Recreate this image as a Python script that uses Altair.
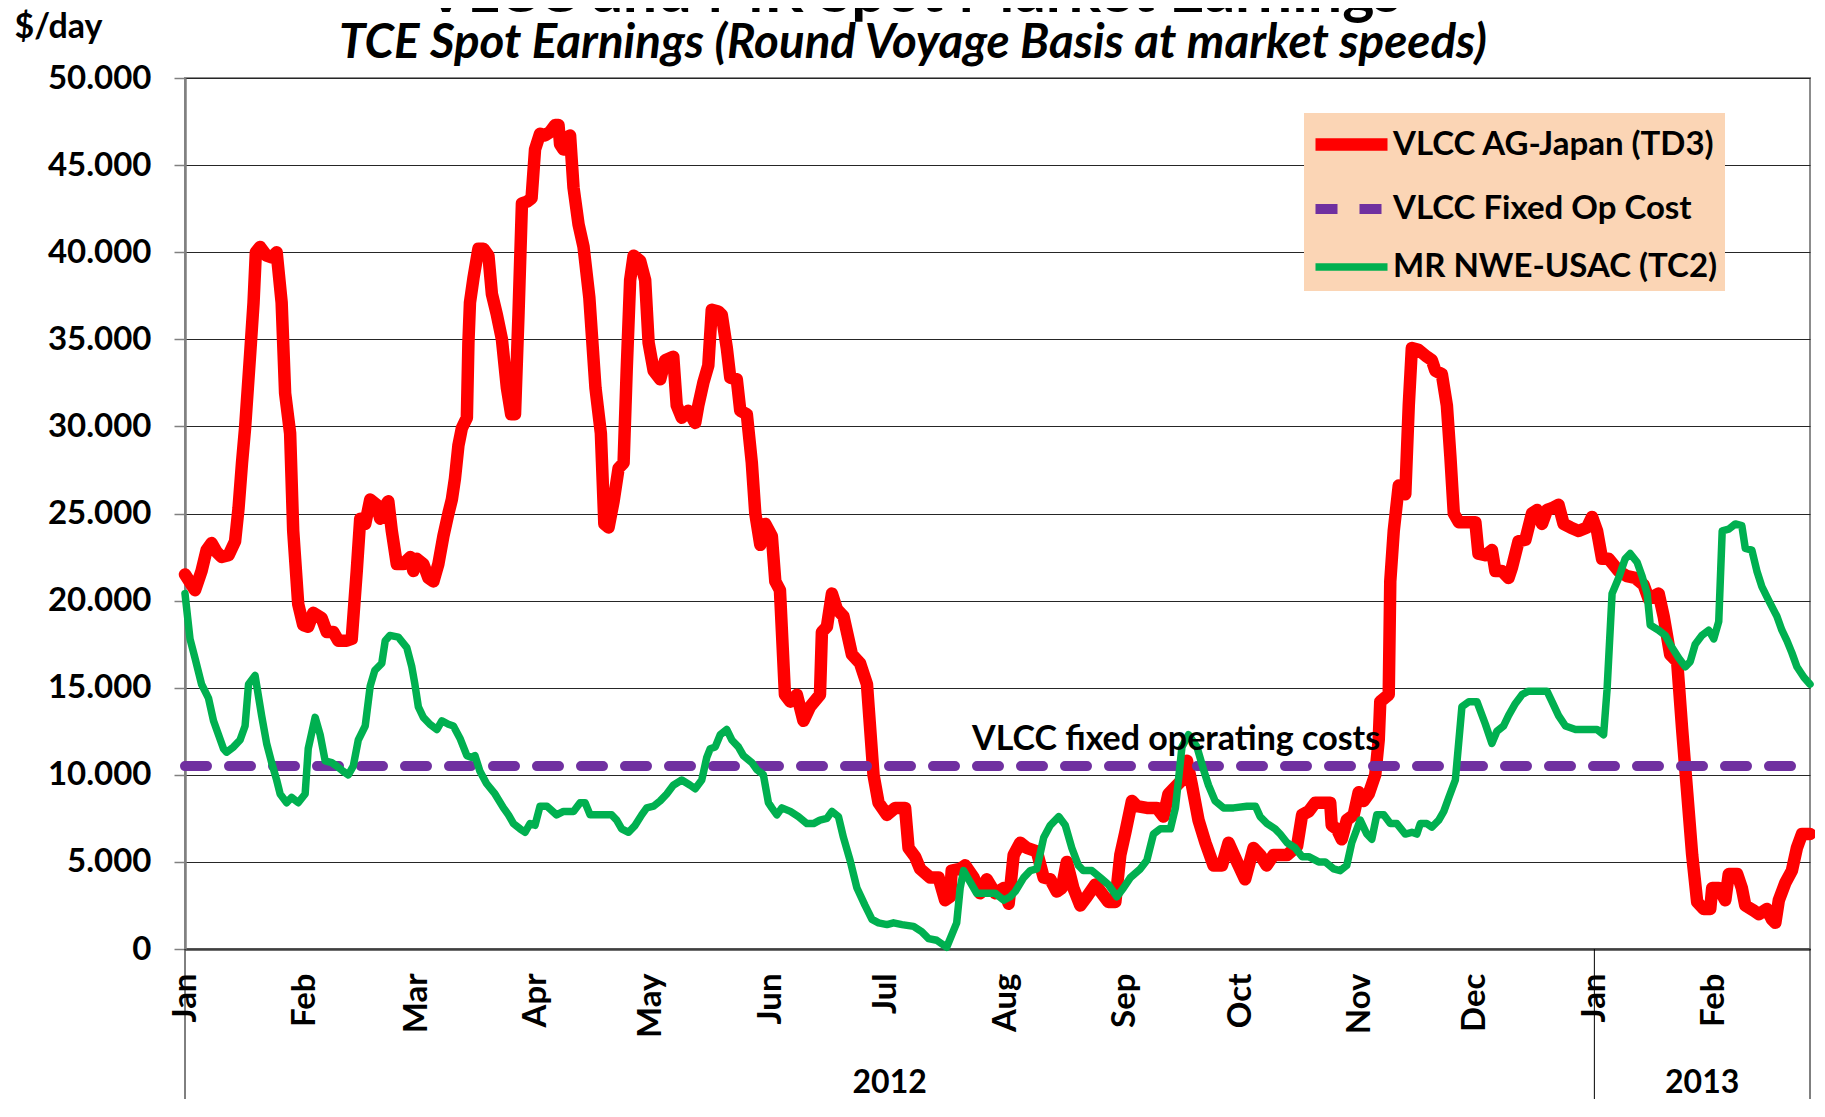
import altair as alt
import pandas as pd

# ---------------- data ----------------
START = "2012-01-01"          # day 0 of the day offsets below
END_DAY = 422                 # last day shown (2013-02-26)

# VLCC AG-Japan (TD3), day offset from 1 Jan 2012 and $/day in thousands
td3_day = [0, 2.6, 4.3, 5.6, 6.9, 8.2, 9.5, 11.3, 13.0, 13.9, 14.8, 15.6, 16.9, 17.8, 18.4, 19.5,
           21.2, 22.5, 23.8, 25.1, 26.0, 27.3, 28.1, 29.4, 30.7, 32.0, 33.3, 35.5, 36.8, 38.5, 39.8,
           42.0, 43.3, 44.6, 45.5, 46.8, 48.1, 49.8, 50.7, 51.6, 52.8, 53.7, 55.0, 56.7, 58.5, 59.3,
           60.2, 61.9, 63.2, 64.5, 65.8, 67.1, 68.4, 69.3, 70.1, 71.0, 71.9, 73.2, 73.6, 74.0, 74.9,
           76.2, 77.5, 78.8, 79.7, 81.0, 82.3, 83.6, 84.7, 85.7, 86.6, 87.5, 88.8, 90.0, 90.9, 92.2,
           93.5, 94.8, 96.1, 97.0, 97.4, 98.3, 99.1, 100.0, 100.9, 102.2, 103.5, 105.0, 106.6, 108.0,
           108.9, 110.0, 111.3, 112.6, 113.9, 114.7, 115.6, 116.5, 118.2, 119.5, 120.4, 121.7, 123.4,
           124.7, 126.8, 127.7, 129.0, 130.7, 132.5, 133.3, 134.6, 135.9, 136.8, 138.5, 139.4, 140.7,
           141.6, 143.3, 144.2, 145.9, 147.2, 148.1, 149.4, 150.7, 152.4, 153.3, 154.5, 155.8, 157.2,
           158.9, 160.6, 162.3, 164.9, 165.4, 166.7, 168.0, 169.3, 171.0, 173.2, 175.3, 177.1, 178.8,
           180.1, 182.3, 184.4, 187.0, 187.9, 189.6, 190.9, 193.5, 195.7, 197.4, 198.7, 199.1, 201.3,
           202.6, 204.8, 206.5, 208.2, 210.4, 212.6, 213.9, 215.2, 216.9, 218.6, 221.2, 223.0, 224.7,
           226.4, 227.7, 229.0, 230.7, 232.5, 234.2, 236.4, 238.1, 239.8, 241.6, 242.9, 244.2, 245.9,
           247.2, 249.8, 252.4, 254.1, 255.4, 256.7, 258.9, 260.2, 261.5, 263.2, 265.0, 267.1, 269.3,
           271.0, 273.2, 275.3, 277.5, 279.2, 280.9, 282.7, 286.2, 288.8, 290.1, 291.8, 293.5, 297.4,
           297.8, 299.1, 300.4, 301.7, 303.5, 304.8, 306.1, 307.4, 309.1, 310.0, 310.4, 312.6, 313.0,
           313.9, 315.2, 316.9, 317.8, 318.6, 320.3, 322.5, 323.8, 324.7, 326.4, 327.7, 328.6, 329.5,
           330.8, 332.9, 335.1, 335.9, 337.7, 339.4, 340.3, 342.0, 343.7, 344.6, 346.3, 348.1, 349.8,
           351.1, 352.4, 353.7, 355.0, 356.7, 358.0, 359.8, 361.9, 364.1, 365.4, 366.7, 368.0, 369.7,
           372.3, 374.5, 376.6, 378.8, 380.1, 382.7, 384.0, 385.7, 387.5, 388.8, 390.1, 391.4, 392.7,
           394.4, 396.1, 396.6, 398.3, 400.0, 400.9, 403.1, 404.3, 405.2, 407.4, 408.7, 410.8, 412.1,
           413.0, 413.9, 415.6, 417.3, 418.6, 419.9, 422.0]
td3_k = [21.5, 20.6, 21.7, 22.9, 23.3, 22.8, 22.5, 22.6, 23.4, 25.3, 27.9, 29.9, 34.1, 37.1, 40.0, 40.3,
         39.8, 39.7, 40.0, 37.1, 31.9, 29.6, 24.0, 19.8, 18.6, 18.5, 19.3, 19.0, 18.2, 18.2, 17.7,
         17.7, 17.8, 21.7, 24.7, 24.4, 25.8, 25.5, 24.7, 25.3, 25.7, 24.0, 22.1, 22.1, 22.5, 21.7,
         22.4, 22.1, 21.3, 21.1, 22.1, 23.7, 25.0, 25.8, 27.0, 28.9, 29.9, 30.5, 34.8, 37.1, 38.5,
         40.2, 40.2, 39.8, 37.6, 36.4, 35.0, 32.2, 30.7, 30.7, 36.4, 42.8, 42.9, 43.1, 45.9, 46.8,
         46.7, 46.9, 47.3, 47.3, 46.2, 45.9, 46.6, 46.7, 43.7, 41.6, 40.3, 37.4, 32.2, 29.6,
         24.4, 24.2, 25.7, 27.6, 27.9, 33.2, 38.4, 39.8, 39.5, 38.4, 34.8, 33.2, 32.7,
         33.8, 34.0, 31.2, 30.5, 30.9, 30.2, 31.2, 32.5, 33.5, 36.7, 36.6, 36.4, 34.5,
         32.8, 32.7, 30.9, 30.7, 27.9, 25.0, 23.2, 24.4, 23.7, 21.1, 20.6, 14.6, 14.2,
         14.6, 13.1, 13.9, 14.6, 18.2, 18.5, 20.4, 19.5, 19.1, 16.9, 16.4, 15.2, 10.0,
         8.4, 7.7, 8.1, 8.1, 5.8, 5.3, 4.6, 4.1, 4.1, 2.8, 3.0, 4.5, 4.6,
         4.8, 4.1, 3.2, 4.0, 3.2, 3.5, 2.6, 5.4, 6.1, 5.8, 5.6, 4.1, 4.0,
         3.3, 3.5, 5.0, 3.5, 2.5, 3.0, 3.7, 3.2, 2.7, 2.7, 5.4, 6.7, 8.5,
         8.2, 8.1, 8.1, 7.6, 8.9, 9.2, 9.7, 10.8, 9.4, 7.4, 6.1, 4.8, 4.8,
         6.1, 5.0, 4.0, 5.8, 5.4, 4.8, 5.4, 5.4, 5.9, 7.7, 7.9, 8.4, 8.4,
         7.1, 6.9, 6.3, 7.4, 7.7, 9.0, 8.5, 8.9, 10.0, 12.0, 14.2, 14.6, 21.1,
         24.0, 26.6, 26.1, 31.2, 34.5, 34.4, 34.0, 33.8, 33.2, 33.0, 31.2, 28.3, 25.0,
         24.5, 24.5, 24.5, 22.7, 22.6, 22.9, 21.7, 21.7, 21.3, 21.9, 23.4, 23.5, 25.0,
         25.2, 24.4, 25.2, 25.3, 25.5, 24.4, 24.2, 24.0, 24.2, 24.8, 24.0, 22.4, 22.4,
         21.7, 21.4, 21.3, 20.9, 20.1, 20.4, 19.1, 16.9, 16.5, 12.6, 9.0, 5.4, 2.7,
         2.3, 2.3, 3.5, 3.5, 2.8, 4.3, 4.3, 3.5, 2.5, 2.2, 2.0, 2.3, 1.7,
         1.5, 2.8, 3.8, 4.5, 5.8, 6.6, 6.6]

# MR NWE-USAC (TC2)
tc2_day = [0, 1.3, 2.6, 4.3, 6.1, 7.4, 8.7, 10.0, 10.8, 12.6, 14.3, 15.6, 16.5, 18.2, 19.9, 21.2,
           22.5, 23.8, 24.7, 26.4, 27.7, 29.4, 31.2, 32.0, 33.8, 35.1, 36.4, 38.1, 39.4, 41.1, 42.4,
           43.7, 45.0, 46.8, 48.1, 49.3, 51.1, 52.0, 53.2, 55.4, 57.6, 58.9, 59.7, 60.6, 61.9, 63.6,
           65.4, 66.7, 68.4, 69.7, 71.4, 73.2, 74.5, 75.3, 76.6, 78.3, 80.5, 82.7, 84.0, 85.3, 87.0,
           88.3, 89.6, 90.9, 92.2, 94.0, 96.5, 98.3, 100.9, 102.6, 103.9, 105.2, 110.8, 112.1, 113.4,
           115.2, 116.9, 118.6, 119.9, 121.7, 123.4, 125.1, 126.8, 129.0, 131.2, 132.5, 134.2, 135.5,
           136.4, 137.7, 139.0, 140.7, 142.0, 143.7, 145.0, 147.2, 148.5, 150.2, 151.5, 152.4, 153.7,
           155.0, 157.2, 159.3, 161.5, 163.2, 164.9, 166.7, 168.0, 169.7, 171.0, 172.7, 174.5, 176.6,
           178.4, 180.1, 182.3, 184.0, 186.2, 189.2, 191.3, 193.1, 195.2, 197.8, 200.4, 201.3, 202.2,
           203.5, 205.6, 207.8, 210.4, 212.6, 214.3, 215.6, 217.8, 219.5, 221.2, 223.0, 224.7, 226.9,
           228.6, 230.3, 232.0, 233.3, 235.5, 237.7, 239.8, 242.0, 243.7, 245.5, 248.1, 249.8, 251.5,
           253.3, 255.9, 257.2, 258.0, 258.9, 260.6, 262.8, 264.5, 265.8, 267.5, 269.7, 272.3, 275.8,
           278.0, 279.2, 281.0, 283.1, 284.4, 286.2, 288.3, 290.1, 291.8, 294.4, 296.1, 298.3, 300.0,
           301.7, 303.0, 305.2, 306.9, 308.2, 309.5, 311.3, 313.0, 314.7, 316.9, 318.6, 319.9, 320.8,
           322.5, 323.8, 325.6, 326.9, 328.2, 329.9, 331.6, 333.4, 335.5, 337.7, 339.4, 340.7, 342.4,
           343.7, 345.5, 347.2, 348.9, 351.5, 353.7, 355.0, 356.7, 358.5, 361.1, 363.7, 366.7, 368.4,
           369.3, 370.6, 372.3, 374.0, 375.3, 377.1, 378.4, 379.7, 380.5, 382.7, 384.4, 386.2, 387.9,
           389.6, 390.9, 392.2, 393.9, 395.7, 397.0, 398.3, 399.2, 400.9, 402.6, 404.3, 405.2, 406.9,
           408.2, 409.5, 411.3, 413.4, 414.7, 416.0, 417.3, 418.6, 420.4, 422.0]
tc2_k = [20.4, 17.8, 16.7, 15.2, 14.4, 13.1, 12.3, 11.5, 11.3, 11.6, 12.0, 12.8, 15.2, 15.7, 13.4, 11.8,
         10.7, 9.7, 8.9, 8.4, 8.7, 8.4, 8.9, 11.5, 13.3, 12.3, 10.8, 10.7, 10.5, 10.2, 10.0,
         10.5, 12.0, 12.8, 15.1, 16.0, 16.4, 17.7, 18.0, 17.9, 17.3, 16.2, 15.2, 13.9, 13.3, 12.9,
         12.6, 13.1, 12.9, 12.8, 12.1, 11.1, 11.0, 11.1, 10.2, 9.5, 8.9, 8.1, 7.7, 7.2, 6.9,
         6.7, 7.2, 7.1, 8.2, 8.2, 7.7, 7.9, 7.9, 8.4, 8.4, 7.7, 7.7, 7.4, 6.9,
         6.7, 7.1, 7.7, 8.1, 8.2, 8.5, 8.9, 9.4, 9.7, 9.4, 9.2, 9.7, 11.0,
         11.5, 11.6, 12.3, 12.6, 12.0, 11.6, 11.1, 10.7, 10.3, 10.0, 8.4, 8.1, 7.7,
         8.1, 7.9, 7.6, 7.2, 7.2, 7.4, 7.5, 7.9, 7.6, 6.4, 5.1, 3.5, 2.5,
         1.7, 1.5, 1.4, 1.5, 1.4, 1.3, 1.0, 0.6, 0.5, 0.1, 1.5, 3.5, 4.5,
         4.0, 3.2, 3.2, 3.2, 2.8, 3.0, 3.3, 4.1, 4.5, 4.6, 6.4, 7.1, 7.6,
         7.1, 5.8, 4.8, 4.5, 4.5, 4.1, 3.7, 3.0, 3.5, 4.1, 4.6, 5.1, 6.6,
         6.9, 6.9, 8.1, 9.7, 11.6, 12.3, 11.6, 10.3, 9.4, 8.5, 8.1, 8.1, 8.2,
         8.2, 7.6, 7.2, 6.9, 6.6, 6.1, 5.8, 5.3, 5.3, 5.0, 5.0, 4.6, 4.5,
         4.8, 6.1, 7.4, 6.6, 6.3, 7.7, 7.7, 7.2, 7.2, 6.6, 6.7, 6.6, 7.2,
         7.2, 7.0, 7.4, 7.9, 8.7, 9.7, 13.9, 14.2, 14.2, 12.9, 11.8, 12.5, 12.8,
         13.4, 14.1, 14.6, 14.8, 14.8, 14.8, 14.2, 13.4, 12.8, 12.6, 12.6, 12.6, 12.3,
         14.9, 20.4, 21.3, 22.4, 22.7, 22.2, 21.4, 20.4, 18.6, 18.3, 18.0, 17.3, 16.7,
         16.2, 16.5, 17.5, 18.0, 18.3, 17.8, 18.8, 24.0, 24.1, 24.4, 24.3, 23.0, 22.9,
         21.7, 20.8, 20.0, 19.1, 18.3, 17.7, 17.0, 16.2, 15.6, 15.2]

# VLCC fixed operating cost (flat)
opcost_day = [0, 422]
opcost_k = [10.5, 10.5]

series_names = ["VLCC AG-Japan (TD3)", "VLCC Fixed Op Cost", "MR NWE-USAC (TC2)"]
series_colors = ["#FF0000", "#7030A0", "#00B050"]
width_range = [12.5, 7.5]          # TD3 -> 12.5, op cost -> 10, TC2 -> 7.5
series_dashes = [[], [22, 22], []]

y_ticks = [0, 5000, 10000, 15000, 20000, 25000, 30000, 35000, 40000, 45000, 50000]
month_ticks = [(2012, m) for m in range(1, 13)] + [(2013, 1), (2013, 2)]
year_labels = ["2012", "2013"]
year_bounds_day = [0, 366, 422]

title_text = "VLCC and MR Spot Market Earnings"
subtitle_text = "TCE Spot Earnings (Round Voyage Basis at market speeds)"
annot_text = "VLCC fixed operating costs"
annot_day = 204.4
annot_k = 11.4

# ---------------- build tables ----------------
base_ts = pd.Timestamp(START)


def to_dates(days):
    return base_ts + pd.to_timedelta(days, unit="D")


frames = []
for name, d, v in [(series_names[0], td3_day, td3_k),
                   (series_names[1], opcost_day, opcost_k),
                   (series_names[2], tc2_day, tc2_k)]:
    frames.append(pd.DataFrame({"date": to_dates(d), "value": [x * 1000 for x in v], "series": name}))
df = pd.concat(frames, ignore_index=True)

years_df = pd.DataFrame({
    "label": year_labels,
    "date": to_dates([(year_bounds_day[i] + year_bounds_day[i + 1]) / 2 for i in range(2)]),
})
bounds_df = pd.DataFrame({"date": to_dates(year_bounds_day)})
annot_df = pd.DataFrame({"date": to_dates([annot_day]), "value": [annot_k * 1000], "t": [annot_text]})

# ---------------- chart ----------------
W, H = 1625, 871
FONT = "Lato"

x_scale = alt.Scale(domain=[alt.DateTime(year=2012, month=1, date=1),
                            alt.DateTime(year=2013, month=2, date=26)])
y_scale = alt.Scale(domain=[0, 50000], nice=False)

x_axis = alt.Axis(
    values=[alt.DateTime(year=y, month=m, date=1) for y, m in month_ticks],
    format="%b", labelAngle=270, labelAlign="right", labelBaseline="middle",
    labelPadding=24, labelFont=FONT, labelFontSize=33, labelFontWeight="bold",
    labelColor="#000000", labelFlush=False, labelOverlap=False, labelBound=False,
    ticks=False, grid=False, domainColor="#404040", domainWidth=2.5, title=None,
)
y_axis = alt.Axis(
    values=y_ticks, labelExpr="replace(format(datum.value, ','), ',', '.')",
    labelFont=FONT, labelFontSize=33, labelFontWeight="bold", labelColor="#000000",
    labelPadding=23, tickSize=11, tickColor="#808080", tickWidth=1.5,
    domainColor="#808080", domainWidth=2.5,
    grid=True, gridColor="#262626", gridWidth=1,
    title="$/day", titleAngle=0, titleX=-171, titleY=-41, titleAlign="left",
    titleBaseline="alphabetic", titleFont=FONT, titleFontSize=34, titleFontWeight="bold",
    titleColor="#000000",
)

leg = alt.Legend(
    title=None, orient="none", legendX=1119, legendY=35, direction="vertical",
    fillColor="#FBD5B5", padding=7, rowPadding=16,
    labelFont=FONT, labelFontSize=33, labelFontWeight="bold", labelColor="#000000",
    labelLimit=0, labelOffset=17,
    symbolType="M -2 0 L 2 0", symbolSize=1296, symbolOffset=16,
)

color_enc = alt.Color("series:N", scale=alt.Scale(domain=series_names, range=series_colors), legend=leg)
dash_enc = alt.StrokeDash("series:N", scale=alt.Scale(domain=series_names, range=series_dashes), legend=leg)
width_enc = alt.StrokeWidth("series:N", scale=alt.Scale(type="point", domain=series_names,
                                                        range=width_range, padding=0), legend=leg)

layers = []
for name in series_names:
    layers.append(
        alt.Chart(df).transform_filter(alt.datum.series == name)
        .mark_line(strokeCap="round", strokeJoin="round")
        .encode(
            x=alt.X("date:T", scale=x_scale, axis=x_axis),
            y=alt.Y("value:Q", scale=y_scale, axis=y_axis),
            color=color_enc, strokeDash=dash_enc, strokeWidth=width_enc,
        )
    )

annot = alt.Chart(annot_df).mark_text(
    font=FONT, fontSize=34, fontWeight="bold", color="#000000", align="left", baseline="alphabetic"
).encode(x="date:T", y="value:Q", text="t:N")

sep = alt.Chart(bounds_df).mark_rule(color="#000000", strokeWidth=1).encode(
    x="date:T", y=alt.value(H), y2=alt.value(H + 160)
)
year_txt = alt.Chart(years_df).mark_text(
    font=FONT, fontSize=32, fontWeight="bold", color="#000000", align="center", baseline="alphabetic"
).encode(x="date:T", y=alt.value(H + 144), text="label:N")

title_mark = alt.Chart(pd.DataFrame({"t": [title_text]})).mark_text(
    font=FONT, fontSize=61, fontWeight="bold", color="#000000", align="center", baseline="alphabetic"
).encode(x=alt.value(728), y=alt.value(-66), text="t:N")
subtitle_mark = alt.Chart(pd.DataFrame({"t": [subtitle_text]})).mark_text(
    font=FONT, fontSize=47.5, fontWeight="bold", fontStyle="italic", color="#000000",
    align="center", baseline="alphabetic"
).encode(x=alt.value(728), y=alt.value(-20), text="t:N")

chart = alt.layer(*layers, annot, sep, year_txt, title_mark, subtitle_mark).properties(
    width=W, height=H,
    padding={"left": 177, "top": 70, "right": 5, "bottom": 150},
    autosize=alt.AutoSizeParams(type="none"),
    background="#FFFFFF",
).configure_view(stroke="#8c8c8c", strokeWidth=2)

chart.save("out.html", embed_options={"renderer": "svg", "actions": False})
